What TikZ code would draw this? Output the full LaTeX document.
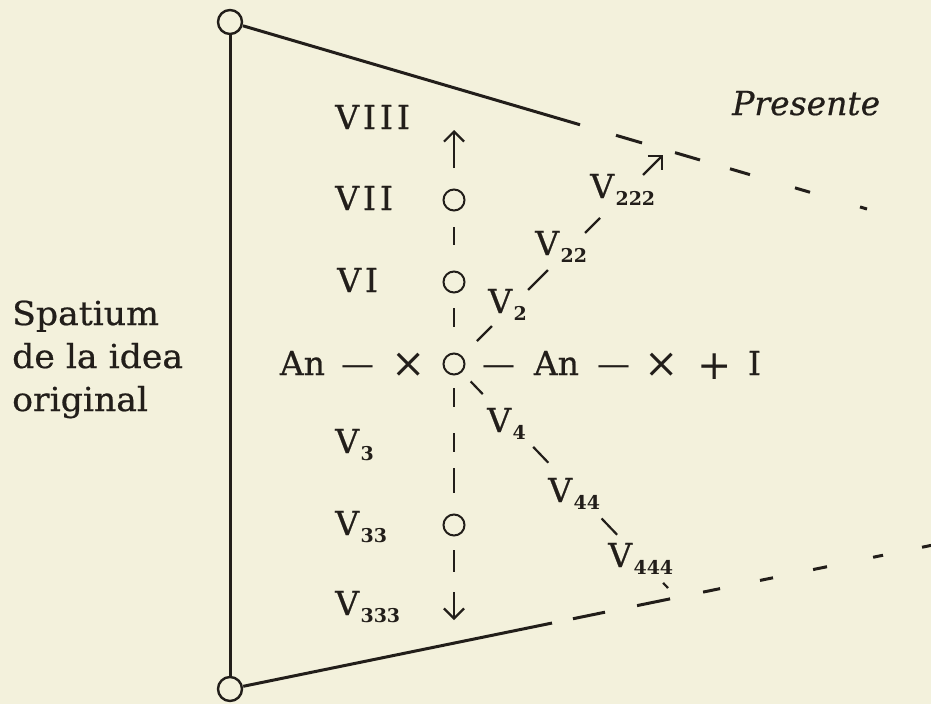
\documentclass[tikz,border=0pt]{standalone}
\usepackage{fontspec}
\setmainfont{DejaVu Serif}[FakeBold=0.6]
\newfontfamily\plainfont{DejaVu Serif}
\newfontfamily\subfont{DejaVu Serif Bold}
\newfontfamily\romfont{DejaVu Serif}[LetterSpace=12,FakeBold=0.6]
\usetikzlibrary{arrows.meta}
\definecolor{paper}{RGB}{243,241,220}
\definecolor{ink}{RGB}{34,30,26}
\newcommand\sbs[1]{\kern1.5pt\raisebox{-7pt}{\fontsize{19}{19}\selectfont\subfont #1}}
\newcommand\wide[1]{\scalebox{1.05}[1]{#1}}
\begin{document}
\begin{tikzpicture}[x=1pt,y=-1pt,
  font=\fontsize{33}{38}\selectfont,
  mainline/.style={draw=ink, line width=3pt},
  bigcirc/.style={circle, draw=ink, line width=2.4pt, minimum size=24pt, inner sep=0pt},
  axcirc/.style={circle, draw=ink, line width=2pt, minimum size=21pt, inner sep=0pt},
  lab/.style={anchor=base west, inner sep=0pt, text=ink},
  rom/.style={anchor=base west, inner sep=0pt, text=ink, font=\fontsize{33}{38}\selectfont\romfont},
  tok/.style={anchor=base, inner sep=0pt, text=ink},
  sym/.style={anchor=base, inner sep=0pt, text=ink, font=\fontsize{33}{38}\selectfont\plainfont},
  bigsym/.style={anchor=base, inner sep=0pt, text=ink, font=\fontsize{41}{44}\selectfont\plainfont},
  axisline/.style={draw=ink, line width=2.2pt},
  barb/.style={-{Straight Barb[length=10pt,width=20pt]}}]
\useasboundingbox (0,0) rectangle (931,704);
\fill[paper] (0,0) rectangle (931,704);

% frame
\node[bigcirc] (tl) at (230,22) {};
\node[bigcirc] (bl) at (230,689) {};
\coordinate (topEnd) at (867,209);
\coordinate (botEnd) at (931,545.4);
\draw[mainline] (tl) -- (bl);
\draw[mainline, shorten <=13.5pt, dash pattern=on 351.3pt off 37.5pt on 27.1pt off 34.4pt on 26pt off 31.3pt on 20.8pt off 46.9pt on 15.7pt off 52.1pt on 7.3pt off 50pt] (tl.center) -- (topEnd);
\draw[mainline, shorten <=13.5pt, dash pattern=on 315.2pt off 21.4pt on 32.7pt off 32.7pt on 33.7pt off 33.7pt on 17.3pt off 40.8pt on 13.3pt off 40.9pt on 14.2pt off 47pt on 10.2pt off 39.8pt on 9.2pt off 50pt] (bl.center) -- (botEnd);

% axis circles
\node[axcirc] (c7) at (454,200) {};
\node[axcirc] (c6) at (454,282) {};
\node[axcirc] (c0) at (454,364) {};
\node[axcirc] (c33) at (454,525) {};
\coordinate (up) at (454,130);
\coordinate (down) at (454,620);
\coordinate (ne) at (663,155);
\coordinate (se) at (668,588);

\draw[axisline, barb, shorten <=32pt] (c7.center) -- (up);
\draw[axisline, shorten <=27pt, shorten >=37pt] (c7.center) -- (c6.center);
\draw[axisline, shorten <=26pt, shorten >=37pt] (c6.center) -- (c0.center);
\draw[axisline, shorten <=24pt, shorten >=32pt, dash pattern=on 19pt off 26pt on 19pt off 16pt on 25pt off 60pt] (c0.center) -- (c33.center);
\draw[axisline, shorten <=25pt, shorten >=48pt] (c33.center) -- (down);
\draw[axisline, barb, shorten <=67pt] (c33.center) -- (down);

% diagonals
\draw[axisline, barb, shorten <=32.5pt, dash pattern=on 21.2pt off 51pt on 28.2pt off 52.4pt on 21.2pt off 60.8pt on 80pt] (c0.center) -- (ne);
\draw[axisline, shorten <=24.1pt, dash pattern=on 17.6pt off 72.9pt on 21.9pt off 77.1pt on 22.6pt off 66.5pt on 10pt] (c0.center) -- (se);

% left labels
\node[rom] (l8) at (335,129) {VIII};
\node[rom] (l7) at (335,210) {VII};
\node[rom] (l6) at (337,292) {VI};
\node[lab] (l3) at (335,453) {V\sbs{3}};
\node[lab] (l33) at (335,535) {V\sbs{33}};
\node[lab] (l333) at (335,615) {V\sbs{333}};

% branch labels
\node[lab] (v2) at (488,313) {V\sbs{2}};
\node[lab] (v22) at (535,255) {V\sbs{22}};
\node[lab] (v222) at (590,198) {V\sbs{222}};
\node[lab] (v4) at (487,432) {V\sbs{4}};
\node[lab] (v44) at (548,502) {V\sbs{44}};
\node[lab] (v444) at (608,567) {V\sbs{444}};

% row
\node[tok] (an1) at (302.5,375) {An};
\node[sym] (d1) at (357.5,375) {—};
\node[bigsym] (x1) at (408.5,377) {×};
\node[sym] (d2) at (498.5,375) {—};
\node[tok] (an2) at (556.5,375) {An};
\node[sym] (d3) at (613.5,375) {—};
\node[bigsym] (x2) at (661.5,377) {×};
\node[bigsym] (pl) at (715,379) {+};
\node[tok] (one) at (754.5,375) {I};

% side texts
\node[lab] (pres) at (732,115) {\itshape Presente};
\node[lab] (sp1) at (12,325) {\wide{Spatium}};
\node[lab] (sp2) at (12,368) {\wide{de la idea}};
\node[lab] (sp3) at (12,411) {\wide{original}};
\end{tikzpicture}
\end{document}
